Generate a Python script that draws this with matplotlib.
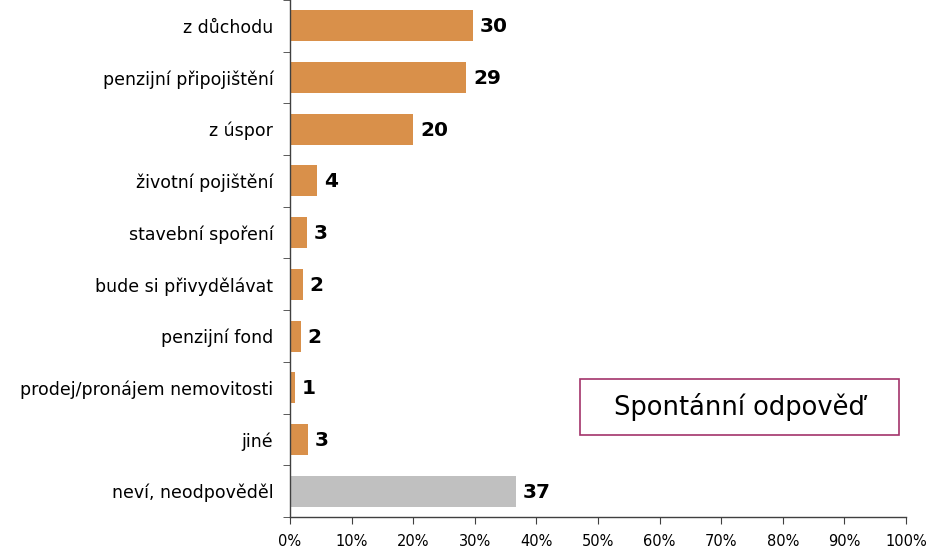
import matplotlib
matplotlib.use("Agg")
import matplotlib.pyplot as plt
from matplotlib.patches import Rectangle
import numpy as np

categories = ["z důchodu", "penzijní připojištění", "z úspor", "životní pojištění",
              "stavební spoření", "bude si přivydělávat", "penzijní fond",
              "prodej/pronájem nemovitosti", "jiné", "neví, neodpověděl"]
values = [29.7, 28.6, 20.0, 4.4, 2.8, 2.1, 1.8, 0.8, 2.9, 36.7]
value_labels = ["30", "29", "20", "4", "3", "2", "2", "1", "3", "37"]
xticks = [0, 10, 20, 30, 40, 50, 60, 70, 80, 90, 100]
xtick_labels = [f"{t}%" for t in xticks]
box_text = "Spontánní odpověď"

orange = "#D9904A"
gray = "#C0C0C0"
colors = [orange] * 9 + [gray]

plt.rcParams['font.family'] = ['DejaVu Sans']
fig = plt.figure(figsize=(9.31, 5.5), dpi=100)
ax = fig.add_axes([290/931, 1 - 517/550, 616/931, 517/550])

y = np.arange(len(categories))
ax.barh(y, values, height=0.6, color=colors, edgecolor="none")
for yi, v, lab in zip(y, values, value_labels):
    ax.text(v + 1.1, yi + 0.02, lab, va="center", ha="left", fontsize=14.5,
            fontweight="bold", color="black")

ax.set_xlim(0, 100)
ax.set_ylim(len(categories) - 0.5, -0.5)
ax.set_xticks(xticks)
ax.set_xticklabels(xtick_labels, fontsize=10.5)
ax.set_yticks(y)
ax.set_yticklabels(categories, fontsize=12.5)
ax.tick_params(axis="y", which="major", length=0, pad=12)
ax.set_yticks(np.arange(-0.5, len(categories) + 0.5, 1.0), minor=True)
ax.tick_params(axis="y", which="minor", length=5, direction="out", color="#404040")
ax.tick_params(axis="x", length=5, direction="out", color="#404040", pad=7)
for s in ["top", "right"]:
    ax.spines[s].set_visible(False)
for s in ["left", "bottom"]:
    ax.spines[s].set_color("#404040")
    ax.spines[s].set_linewidth(1.0)

x0, x1, y0, y1 = 580, 899, 379, 435
fig.patches.append(Rectangle((x0/931, 1 - y1/550), (x1 - x0)/931, (y1 - y0)/550,
                             transform=fig.transFigure, facecolor="white",
                             edgecolor="#A3336B", linewidth=1.2))
fig.text((x0 + x1)/2/931, 1 - (y0 + y1)/2/550, box_text, ha="center", va="center",
         fontsize=18.5, color="black")

fig.savefig("out.png", dpi=100)
